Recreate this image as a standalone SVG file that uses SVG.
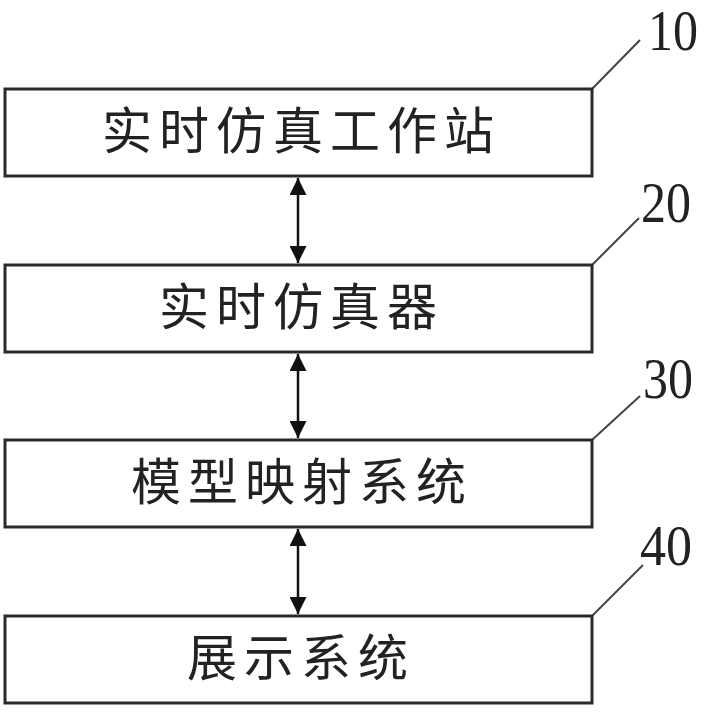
<svg xmlns="http://www.w3.org/2000/svg" width="708" height="712" viewBox="0 0 708 712">
<defs>
<marker id="ah" viewBox="0 0 10 10" refX="10" refY="5" markerWidth="17" markerHeight="17" markerUnits="userSpaceOnUse" orient="auto-start-reverse">
<path d="M0,0 L10,5 L0,10 z" fill="#111"/>
</marker>
<style>
.box{fill:#fff;stroke:#2a2a2a;stroke-width:3}
.lbl{font-family:"Noto Sans CJK SC","Noto Sans CJK JP",sans-serif;font-size:50px;letter-spacing:7px;fill:#222}
.num{font-family:"Liberation Serif",serif;font-size:56px;fill:#222}
.lead{stroke:#444;stroke-width:2;fill:none}
.conn{stroke:#111;stroke-width:2.5;fill:none;marker-start:url(#ah);marker-end:url(#ah)}
</style>
</defs>
<rect width="708" height="712" fill="#fff"/>
<g id="connectors">
<line class="conn" x1="298" y1="178" x2="298" y2="263"/>
<line class="conn" x1="298" y1="354" x2="298" y2="438"/>
<line class="conn" x1="298" y1="529" x2="298" y2="614"/>
<line class="lead" x1="592" y1="89" x2="640" y2="40"/>
<line class="lead" x1="592" y1="265" x2="639" y2="218"/>
<line class="lead" x1="592" y1="440" x2="640" y2="396"/>
<line class="lead" x1="592" y1="616" x2="643" y2="565"/>
</g>
<g id="node10">
<rect class="box" x="5" y="89" width="587" height="87"/>
<text class="lbl" x="102" y="149">实时仿真工作站</text>
<text class="num" x="648" y="50" textLength="50" lengthAdjust="spacingAndGlyphs">10</text>
</g>
<g id="node20">
<rect class="box" x="5" y="265" width="587" height="87"/>
<text class="lbl" x="159" y="325">实时仿真器</text>
<text class="num" x="641" y="222" textLength="50" lengthAdjust="spacingAndGlyphs">20</text>
</g>
<g id="node30">
<rect class="box" x="5" y="440" width="587" height="87"/>
<text class="lbl" x="131" y="500">模型映射系统</text>
<text class="num" x="643" y="398" textLength="50" lengthAdjust="spacingAndGlyphs">30</text>
</g>
<g id="node40">
<rect class="box" x="5" y="616" width="587" height="87"/>
<text class="lbl" x="187" y="676">展示系统</text>
<text class="num" x="640" y="565" textLength="52" lengthAdjust="spacingAndGlyphs">40</text>
</g>
</svg>
